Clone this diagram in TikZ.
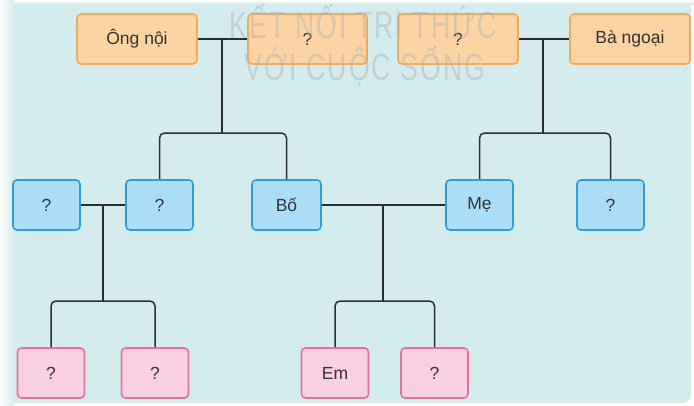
\documentclass[tikz,border=0pt]{standalone}
\usepackage{fontspec}
\setmainfont{Liberation Sans}
\newfontfamily\wmfont[LetterSpace=8]{Liberation Sans}
\definecolor{bgc}{HTML}{D5ECEF}
\definecolor{orF}{HTML}{FCD3A3}
\definecolor{orD}{HTML}{F1AA5C}
\definecolor{blF}{HTML}{ABDDF6}
\definecolor{blD}{HTML}{2E9FD3}
\definecolor{pkF}{HTML}{F9CFE2}
\definecolor{pkD}{HTML}{E0749F}
\definecolor{lnc}{HTML}{2A2E30}
\definecolor{wmc}{HTML}{A9B3B6}
\definecolor{txc}{HTML}{333333}
\tikzset{
  box/.style={rounded corners=4pt, line width=1.6pt, minimum height=50pt, inner sep=0pt, font=\fontsize{17.5}{19}\selectfont, text=txc},
  obox/.style={box, draw=orD, fill=orF, minimum width=120pt},
  bbox/.style={box, draw=blD, fill=blF, minimum width=67pt},
  pbox/.style={box, draw=pkD, fill=pkF, minimum width=67pt},
  conn/.style={draw=lnc, line width=1.5pt, rounded corners=5pt},
  wm/.style={text=wmc, opacity=0.45, inner sep=0pt, anchor=base, font=\wmfont\fontsize{38}{38}\selectfont, xscale=0.7}
}
\begin{document}
\begin{tikzpicture}[x=1pt,y=-1pt]
\useasboundingbox (0,0) rectangle (694,405);
\fill[white] (0,0) rectangle (694,405);
\fill[bgc, rounded corners=8pt] (4,2) rectangle (691,403);
\shade[left color=white, right color=bgc] (0,0) rectangle (14,405);
\shade[top color=white, bottom color=bgc] (14,0) rectangle (694,4);

% top row
\node[obox] (ong) at (137,39) {Ông nội};
\node[obox, minimum width=119pt] (q1) at (307.5,39) {?};
\node[obox] (q2) at (458,39) {?};
\node[obox] (ba) at (630,39) {Bà ngoại};

% middle row
\node[bbox] (b1) at (46.5,205) {?};
\node[bbox] (b2) at (159.5,205) {?};
\node[bbox, minimum width=69pt] (bo) at (286.5,205) {Bố};
\node[bbox] (me) at (479.5,205) {Mẹ};
\node[bbox] (b5) at (610.5,205) {?};

% bottom row
\node[pbox] (p1) at (51,373) {?};
\node[pbox] (p2) at (155,373) {?};
\node[pbox] (em) at (335,373) {Em};
\node[pbox] (p4) at (434.5,373) {?};

% watermark
\node[wm] (wm1) at (363,38) {KẾT NỐI TRI THỨC};
\node[wm] (wm2) at (365,80) {VỚI CUỘC SỐNG};

\coordinate (jA) at (222,39);
\coordinate (bA) at (222,133);
\coordinate (jB) at (543,39);
\coordinate (bB) at (543,133);
\coordinate (jC) at (103,205);
\coordinate (bC) at (103,301);
\coordinate (jD) at (383,205);
\coordinate (bD) at (383,301);

\draw[conn] (ong.east) -- (q1.west);
\draw[conn] (jA) -- (bA);
\draw[conn] (b2.north) |- (bA) -| (bo.north);

\draw[conn] (q2.east) -- (ba.west);
\draw[conn] (jB) -- (bB);
\draw[conn] (me.north) |- (bB) -| (b5.north);

\draw[conn] (b1.east) -- (b2.west);
\draw[conn] (jC) -- (bC);
\draw[conn] (p1.north) |- (bC) -| (p2.north);

\draw[conn] (bo.east) -- (me.west);
\draw[conn] (jD) -- (bD);
\draw[conn] (em.north) |- (bD) -| (p4.north);
\end{tikzpicture}
\end{document}
